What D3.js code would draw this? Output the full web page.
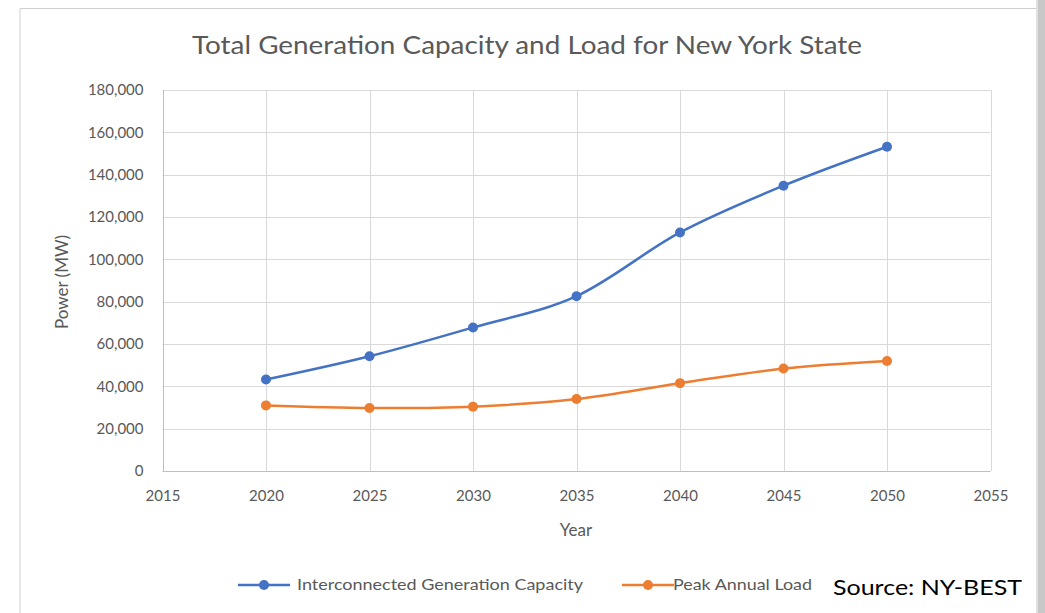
<!DOCTYPE html>
<html><head><meta charset="utf-8">
<script src="https://cdn.jsdelivr.net/npm/d3@7"></script>
<style>body{margin:0;background:#fff;}svg{display:block;}</style>
</head><body>
<svg id="c" width="1045" height="613"></svg>
<script>
const years = [2020, 2025, 2030, 2035, 2040, 2045, 2050];
const capacity = [43200, 54200, 67800, 82600, 112700, 134800, 153200];
const peakLoad = [31000, 29800, 30400, 34000, 41500, 48400, 52000];
const xTicks = [2015, 2020, 2025, 2030, 2035, 2040, 2045, 2050, 2055];
const yTicks = [0, 20000, 40000, 60000, 80000, 100000, 120000, 140000, 160000, 180000];
const seriesNames = ["Interconnected Generation Capacity", "Peak Annual Load"];
const colors = ["#4472C4", "#ED7D31"];

const svg = d3.select("#c");
const font = "Lato, 'Open Sans', sans-serif";
const textCol = "#595959";

// frame
svg.append("path").attr("d","M20,613 L20,8.5 L1038,8.5").attr("fill","none").attr("stroke","#d0d0d0").attr("stroke-width",1);
svg.append("rect").attr("x",1037).attr("y",0).attr("width",8).attr("height",613).attr("fill","#c8c8c8");
svg.append("rect").attr("x",1036).attr("y",0).attr("width",2).attr("height",613).attr("fill","#e0e0e0");

const x = d3.scaleLinear().domain([2015, 2055]).range([162.5, 990.5]);
const y = d3.scaleLinear().domain([0, 180000]).range([471, 90]);

// gridlines
const g = svg.append("g");
g.selectAll(".hg").data(yTicks).join("line")
  .attr("x1", x(2015)).attr("x2", x(2055))
  .attr("y1", d => Math.round(y(d)) + 0.5).attr("y2", d => Math.round(y(d)) + 0.5)
  .attr("stroke", d => d === 0 ? "#bfbfbf" : "#d9d9d9").attr("stroke-width", 1);
g.selectAll(".vg").data(xTicks).join("line")
  .attr("y1", y(180000)).attr("y2", y(0))
  .attr("x1", d => Math.round(x(d)) + 0.5).attr("x2", d => Math.round(x(d)) + 0.5)
  .attr("stroke", d => d === 2015 ? "#bfbfbf" : "#d9d9d9").attr("stroke-width", 1);

// axes (labels only)
const yAxis = svg.append("g").attr("transform", `translate(${x(2015)},0)`)
  .call(d3.axisLeft(y).tickValues(yTicks).tickFormat(d3.format(",")).tickSize(0).tickPadding(19));
yAxis.select(".domain").remove();
yAxis.selectAll("text").attr("font-family", font).attr("font-size", 15).attr("fill", textCol);

const xAxis = svg.append("g").attr("transform", `translate(0,${y(0)})`)
  .call(d3.axisBottom(x).tickValues(xTicks).tickFormat(d3.format("d")).tickSize(0).tickPadding(19));
xAxis.select(".domain").remove();
xAxis.selectAll("text").attr("font-family", font).attr("font-size", 15).attr("fill", textCol);

// title
svg.append("text").attr("x", 527).attr("y", 54).attr("text-anchor", "middle")
  .attr("font-family", font).attr("font-size", 25).attr("fill", textCol)
  .attr("textLength", 670).attr("lengthAdjust", "spacingAndGlyphs")
  .text("Total Generation Capacity and Load for New York State");

// axis titles
svg.append("text").attr("x", 576).attr("y", 536).attr("text-anchor", "middle")
  .attr("font-family", font).attr("font-size", 17).attr("fill", textCol).text("Year");
svg.append("text").attr("transform", "translate(68,282) rotate(-90)").attr("text-anchor", "middle")
  .attr("font-family", font).attr("font-size", 17).attr("fill", textCol).text("Power (MW)");

// lines
const data = [capacity, peakLoad];
const line = d3.line().x((d, i) => x(years[i])).y(d => y(d)).curve(d3.curveCatmullRom.alpha(0));
data.forEach((s, k) => {
  svg.append("path").datum(s).attr("d", line).attr("fill", "none")
    .attr("stroke", colors[k]).attr("stroke-width", 2.5);
  svg.selectAll(".pt" + k).data(s).join("circle")
    .attr("cx", (d, i) => x(years[i])).attr("cy", d => y(d)).attr("r", 5)
    .attr("fill", colors[k]);
});

// legend
const leg = [{x0: 238, tx: 297, tl: 286}, {x0: 622, tx: 673, tl: 139}];
leg.forEach((l, k) => {
  svg.append("line").attr("x1", l.x0).attr("x2", l.x0 + 52).attr("y1", 585).attr("y2", 585)
    .attr("stroke", colors[k]).attr("stroke-width", 2.5);
  svg.append("circle").attr("cx", l.x0 + 26).attr("cy", 585).attr("r", 5).attr("fill", colors[k]);
  svg.append("text").attr("x", l.tx).attr("y", 590).attr("font-family", font).attr("font-size", 15)
    .attr("fill", textCol).attr("textLength", l.tl).attr("lengthAdjust", "spacingAndGlyphs")
    .text(seriesNames[k]);
});

// source
svg.append("text").attr("x", 833).attr("y", 595).attr("font-family", font).attr("font-size", 21)
  .attr("fill", "#000").attr("textLength", 189).attr("lengthAdjust", "spacingAndGlyphs")
  .text("Source: NY-BEST");
</script>
</body></html>
